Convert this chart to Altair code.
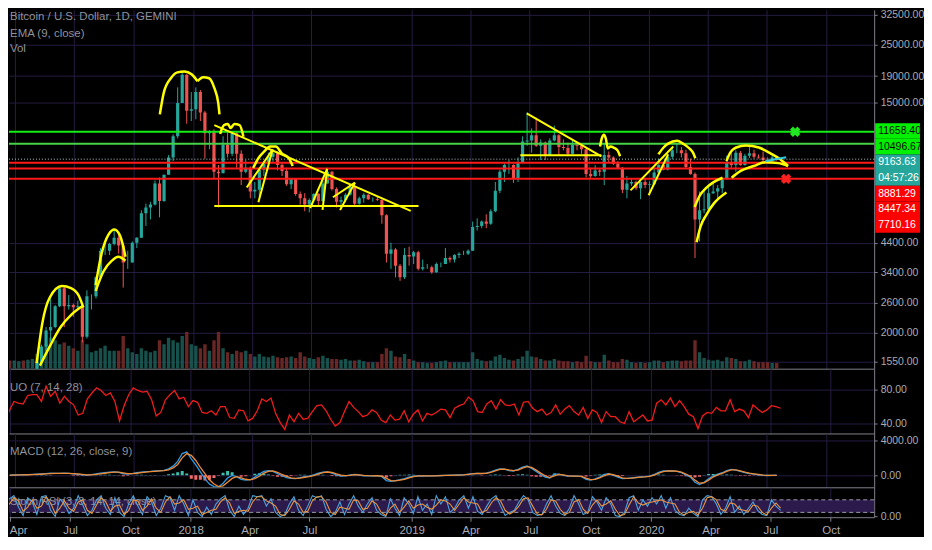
import altair as alt
import pandas as pd

# ---------------- layout / style ----------------
W = 868
H_PRICE, H_UO, H_MACD, H_STOCH = 360, 65, 54, 30
FONT = "Liberation Sans Narrow, Liberation Sans, Arial, sans-serif"
FONT_TXT = "Liberation Sans, Arial, sans-serif"
BG = "#000000"; GRID = "#251b40"; SEP = "#7e818a"; LBL = "#a8abb3"; LEG = "#8e929b"
UP = "#26a69a"; DOWN = "#ef5350"; VUP = "#1b5a54"; VDOWN = "#732a29"
YEL = "#ffff00"

# ---------------- weekly grid (GEMINI feed has a gap in Sep/Oct 2018) ----------------
week_a = pd.date_range("2017-03-20", "2018-09-17", freq="7D")
week_b = pd.date_range("2018-10-22", "2020-07-13", freq="7D")
weeks = list(week_a) + list(week_b)

# ---------------- price (weekly close / high / low) ----------------
first_open = 1020
close_2017 = [965, 1090, 1180, 1170, 1240, 1350, 1550, 1770, 2040, 2100, 2520, 2950, 2520, 2550, 2500, 2520,
              1930, 2750, 2750, 3250, 4100, 4100, 4350, 4600, 4300, 3700, 3700, 4400, 4600, 5700, 6000, 6150,
              7400, 6350, 8000, 9300, 11200, 15000, 19200, 14000, 14200]
high_2017 = [1120, 1100, 1200, 1210, 1250, 1350, 1600, 1800, 2100, 2750, 2550, 2980, 2980, 2780, 2580, 2650,
             2530, 2900, 2800, 3280, 4200, 4480, 4400, 4980, 4700, 4400, 4100, 4450, 4620, 5850, 6200, 6300,
             7600, 7800, 8000, 9500, 11400, 17200, 19800, 19300, 16500]
low_2017 = [890, 930, 1050, 1150, 1170, 1230, 1340, 1540, 1700, 1850, 2080, 2500, 2100, 2450, 2300, 2480,
            1840, 1900, 2450, 2700, 3200, 3950, 3950, 4300, 4000, 2970, 3500, 3700, 4200, 4600, 5100, 5400,
            6100, 5500, 6300, 8000, 9000, 11000, 15000, 12500, 12800]
close_2018 = [16500, 13800, 11500, 11700, 8200, 8100, 10400, 9600, 11500, 9600, 8200, 8500, 6900, 7000, 8350,
              8900, 9350, 9650, 8700, 8250, 7350, 7700, 6750, 6500, 6150, 6400, 6750, 6350, 7400, 8200, 7050,
              6300, 6400, 6700, 7200, 6200, 6500, 6700]
high_2018 = [17200, 16800, 14000, 11800, 11900, 8700, 11200, 11700, 11600, 11700, 9900, 9100, 8600, 7500, 8400,
             9000, 9700, 9950, 9800, 8850, 8500, 7750, 7750, 6900, 6800, 6500, 6800, 6800, 7600, 8500, 8250,
             7150, 6600, 6800, 7300, 7400, 6600, 6800]
low_2018 = [13000, 12800, 9200, 10000, 7700, 6000, 8100, 9300, 9400, 8500, 7300, 8100, 6500, 6500, 6600,
            7900, 8700, 8950, 8300, 7900, 7250, 7050, 6650, 6150, 5800, 5750, 6300, 6100, 6300, 7400, 6950,
            6000, 5900, 6300, 6650, 6100, 6150, 6250]
close_q4_2018 = [6450, 6450, 6400, 5600, 4000, 4150, 3600, 3250, 3950, 3900]
high_q4_2018 = [6750, 6550, 6600, 6450, 5650, 4400, 4200, 3650, 4200, 4250]
low_q4_2018 = [6400, 6300, 6350, 5200, 3700, 3500, 3250, 3150, 3200, 3600]
close_2019 = [4050, 3500, 3550, 3550, 3400, 3650, 3650, 3850, 3800, 3950, 4000, 4000, 4100, 5050, 5100, 5300,
              5200, 5800, 6950, 8200, 8700, 8700, 7700, 8900, 10700, 10800, 11300, 10300, 10600, 9500, 10800,
              11300, 10200, 10100, 9600, 10400, 10300, 10000, 8050, 7900, 8300, 8200, 9500, 9300, 8800, 8500,
              7000, 7400, 7500, 7100, 7500, 7300]
high_2019 = [4100, 4100, 3800, 3650, 3600, 3700, 3700, 4200, 3900, 3980, 4050, 4100, 4150, 5300, 5450, 5350,
             5650, 5900, 7500, 8350, 8800, 9100, 8750, 9300, 11200, 13800, 12000, 13200, 10900, 10700, 11000,
             12300, 11400, 10900, 10600, 10900, 10500, 10350, 10050, 8500, 8700, 8400, 10500, 9800, 9400, 9000,
             8550, 7900, 7700, 7600, 7550, 7700]
low_2019 = [3650, 3450, 3450, 3500, 3350, 3380, 3550, 3650, 3700, 3700, 3850, 3950, 3950, 4100, 4900, 5000,
            5000, 5150, 5750, 6800, 7500, 8050, 7450, 7500, 8850, 10300, 9700, 10200, 9100, 9100, 9400,
            10700, 9500, 9900, 9400, 9550, 9900, 9600, 7800, 7750, 7850, 7900, 7300, 8900, 8700, 8450,
            6800, 6500, 7250, 7000, 6450, 7100]
close_2020 = [7350, 8150, 8700, 8350, 9350, 9900, 9900, 9650, 8550, 8050, 5400, 5850, 5900, 6800, 6900, 7100,
              7700, 8900, 8700, 9700, 8700, 9450, 9650, 9350, 9300, 9100, 9050, 9300, 9163.63]
high_2020 = [7550, 8450, 9200, 8800, 9600, 10150, 10500, 10200, 9950, 9200, 8150, 6900, 6950, 7200, 7450, 7300,
             7750, 9450, 10000, 9900, 9850, 9600, 10400, 9950, 9550, 9800, 9300, 9450, 9350]
low_2020 = [6850, 7300, 8100, 8300, 8300, 9150, 9650, 9300, 8450, 8000, 3850, 4450, 5700, 5850, 6750, 6500,
            6800, 7650, 8500, 8200, 8650, 8650, 9250, 9200, 9200, 8900, 8950, 9000, 9050]

# ---------------- volume (relative, weekly) ----------------
vol_a = [10, 10, 9, 10, 11, 12, 18, 25, 30, 38, 35, 30, 32, 28, 25, 22, 35, 30, 20, 22, 25, 28, 22, 22, 22,
         40, 25, 20, 18, 25, 22, 20, 22, 35, 30, 38, 35, 32, 40, 45, 30, 28, 25, 30, 22, 35, 45, 25, 20, 18,
         22, 20, 22, 18, 15, 18, 15, 14, 16, 14, 13, 14, 15, 13, 20, 15, 13, 12, 14, 16, 13, 12, 12, 11, 12,
         10, 10, 11, 9]
vol_b = [8, 8, 8, 18, 25, 22, 15, 14, 18, 12, 10, 8, 8, 7, 7, 8, 9, 10, 8, 8, 8, 8, 8, 20, 12, 10, 9, 10, 15,
         17, 13, 11, 10, 12, 15, 22, 15, 14, 12, 10, 10, 12, 10, 9, 9, 8, 9, 8, 16, 9, 8, 8, 17, 10, 8, 8, 12,
         11, 8, 7, 8, 7, 8, 10, 10, 8, 9, 10, 10, 9, 10, 10, 35, 20, 13, 11, 10, 11, 9, 14, 13, 12, 9, 9, 11,
         9, 8, 8, 8, 7, 7]

# ---------------- indicators (weekly readings) ----------------
uo_a = [41, 55, 66, 64, 63, 73, 74, 74, 66, 84, 72, 78, 64, 72, 66, 62, 50, 52, 69, 76, 82, 79, 73, 76, 66, 43,
        61, 74, 82, 79, 77, 78, 68, 49, 53, 68, 74, 79, 69, 71, 60, 67, 65, 53, 52, 55, 50, 60, 60, 47, 46, 56,
        55, 43, 46, 55, 69, 66, 70, 52, 41, 33, 50, 42, 52, 45, 46, 54, 61, 62, 55, 45, 37, 41, 54, 66, 59, 54, 48]
uo_b = [50, 56, 53, 44, 41, 50, 44, 45, 55, 42, 51, 56, 43, 52, 50, 53, 57, 56, 47, 58, 61, 63, 71, 67, 54, 53,
        63, 67, 57, 68, 62, 61, 63, 50, 65, 66, 58, 54, 57, 50, 53, 62, 51, 57, 61, 54, 50, 59, 46, 56, 53, 41,
        54, 48, 48, 42, 40, 54, 42, 46, 50, 43, 44, 64, 68, 62, 70, 60, 67, 60, 51, 48, 34, 49, 53, 52, 59, 55,
        55, 68, 54, 57, 55, 47, 62, 57, 53, 56, 61, 60, 58]
macd_a = [20, 40, 60, 70, 80, 100, 130, 160, 200, 240, 230, 220, 240, 230, 160, 120, 60, 20, 80, 160, 250, 320,
          380, 400, 330, 180, 150, 200, 300, 380, 420, 450, 500, 520, 560, 750, 1050, 1600, 2500, 2700, 1900,
          1200, 400, -400, -1000, -1300, -1350, -900, -300, 0, -150, -450, -550, -500, -200, 150, 450, 550, 450,
          200, -50, -250, -350, -380, -250, -150, -100, 50, 250, 380, 400, 250, 50, -80, -50, 50, 100, 20, -50]
signal_a = [30, 35, 45, 55, 65, 80, 100, 125, 160, 200, 220, 220, 225, 230, 200, 160, 110, 60, 60, 100, 170, 240,
            310, 360, 360, 280, 200, 190, 240, 310, 370, 420, 460, 500, 530, 620, 850, 1250, 2000, 2500, 2300,
            1700, 900, 200, -500, -1000, -1300, -1200, -800, -350, -150, -300, -450, -520, -380, -100, 250, 450,
            500, 350, 100, -120, -280, -350, -320, -220, -140, -30, 150, 300, 380, 330, 160, 20, -40, 0, 70, 60, 0]
macd_b = [-60, -50, -40, -150, -600, -700, -600, -500, -380, -200, -80, -50, -80, -70, -60, -40, -20, 0, 10, 30,
          40, 50, 150, 200, 220, 200, 250, 400, 600, 750, 700, 550, 500, 700, 950, 1070, 800, 450, 100, -200,
          -300, 150, 150, 0, -100, -100, -80, -150, -450, -550, -400, -200, 100, 200, 0, -200, -380, -350, -300,
          -250, -190, -150, -80, 100, 350, 500, 520, 500, 450, 300, 50, -200, -800, -1050, -800, -400, -50, 150,
          300, 550, 680, 600, 450, 300, 200, 150, 60, 0, -20, 0, 10]
signal_b = [-40, -50, -45, -100, -350, -600, -640, -560, -450, -300, -150, -70, -70, -70, -65, -50, -30, -10, 5,
            20, 35, 45, 100, 170, 210, 210, 230, 330, 500, 680, 720, 620, 540, 600, 830, 1000, 900, 600, 250, -50,
            -250, -50, 100, 60, -50, -90, -90, -120, -330, -500, -460, -300, -50, 150, 80, -100, -300, -350, -320,
            -270, -210, -170, -110, 20, 250, 430, 500, 500, 470, 360, 150, -100, -550, -900, -850, -550, -200, 50,
            230, 450, 620, 620, 510, 360, 250, 180, 100, 30, 0, -5, 5]
stoch_k_a = [40, 85, 100, 45, 5, 90, 70, 10, 95, 100, 30, 0, 85, 60, 15, 40, 100, 55, 5, 30, 80, 100, 40, 10, 90,
             20, 0, 60, 100, 50, 10, 95, 70, 5, 40, 100, 90, 30, 100, 60, 5, 80, 20, 0, 45, 10, 60, 85, 100, 30, 0,
             50, 10, 40, 100, 95, 100, 50, 85, 20, 0, 10, 60, 95, 30, 5, 50, 100, 90, 100, 35, 0, 20, 70, 10, 60,
             100, 50, 20]
stoch_d_a = [45, 60, 90, 75, 25, 45, 80, 40, 50, 95, 65, 15, 40, 75, 40, 25, 70, 80, 30, 15, 55, 90, 70, 25, 50,
             55, 10, 30, 80, 75, 30, 50, 85, 40, 20, 70, 95, 60, 65, 80, 35, 40, 50, 10, 20, 30, 35, 70, 90, 65,
             15, 25, 30, 25, 70, 95, 95, 75, 65, 50, 10, 5, 35, 75, 60, 20, 25, 75, 95, 95, 70, 20, 10, 45, 40, 35,
             80, 75, 35]
stoch_k_b = [60, 90, 30, 10, 0, 85, 40, 5, 90, 60, 15, 95, 30, 60, 10, 100, 60, 95, 20, 40, 80, 100, 40, 95, 25,
             10, 50, 85, 100, 50, 5, 20, 30, 70, 100, 80, 20, 5, 10, 60, 100, 50, 15, 5, 40, 100, 60, 10, 20, 95,
             70, 30, 90, 60, 5, 0, 20, 90, 100, 30, 80, 50, 90, 60, 100, 40, 90, 30, 10, 5, 40, 15, 0, 80, 100, 95,
             60, 10, 40, 95, 20, 50, 10, 40, 70, 30, 10, 5, 80, 50, 30]
stoch_d_b = [40, 75, 60, 20, 5, 40, 60, 20, 45, 75, 40, 55, 60, 45, 35, 55, 80, 75, 60, 30, 60, 90, 70, 65, 60,
             20, 30, 65, 90, 75, 30, 12, 25, 50, 85, 90, 50, 12, 8, 35, 80, 75, 35, 10, 20, 70, 80, 35, 15, 55, 80,
             50, 60, 75, 35, 5, 10, 55, 95, 65, 55, 65, 70, 75, 80, 70, 65, 60, 20, 8, 20, 25, 8, 40, 90, 95, 80,
             35, 25, 65, 60, 35, 30, 25, 55, 50, 20, 8, 40, 65, 40]

# ---------------- horizontal levels & price labels ----------------
level_prices = [11658.40, 10496.67, 8881.29, 8447.34, 7710.16]
level_colors = ["#14ee14", "#46d246", "#ff1a1a", "#ff1a1a", "#ff1a1a"]
box_labels = ["11658.40", "10496.67", "9163.63", "04:57:26", "8881.29", "8447.34", "7710.16"]
box_bg = ["#00f000", "#00f000", "#26a69a", "#26a69a", "#ff0000", "#ff0000", "#ff0000"]
box_fg = ["#0a0a0a", "#0a0a0a", "#ffffff", "#ffffff", "#ffffff", "#ffffff", "#ffffff"]

# ---------------- hand-drawn annotations (date, price) ----------------
curves = {
    "c1o": [("2017-05-04", 1531), ("2017-05-13", 2193), ("2017-05-24", 2716), ("2017-06-12", 3010),
            ("2017-06-26", 2958), ("2017-07-08", 2763), ("2017-07-15", 2494)],
    "c1i": [("2017-05-09", 1497), ("2017-05-24", 1770), ("2017-06-10", 2101), ("2017-06-27", 2348),
            ("2017-07-15", 2537)],
    "c2o": [("2017-08-03", 3035), ("2017-08-12", 3993), ("2017-08-23", 4738), ("2017-09-01", 4946),
            ("2017-09-10", 4657), ("2017-09-18", 3892)],
    "c2i": [("2017-08-03", 2884), ("2017-08-15", 3421), ("2017-08-28", 3760), ("2017-09-07", 3892),
            ("2017-09-18", 3760)],
    "c3a": [("2017-11-10", 13578), ("2017-11-16", 16393), ("2017-11-27", 18638), ("2017-12-07", 19619),
            ("2017-12-18", 19789), ("2017-12-29", 19286), ("2018-01-07", 18164)],
    "c3b": [("2018-01-07", 18164), ("2018-01-16", 18800), ("2018-01-25", 18638), ("2018-02-02", 17110),
            ("2018-02-08", 15049), ("2018-02-10", 13578)],
    "c4": [("2018-02-11", 11443), ("2018-02-17", 12359), ("2018-02-23", 12462), ("2018-02-27", 12042),
           ("2018-03-05", 12462), ("2018-03-13", 12359), ("2018-03-19", 11150)],
    "c5": [("2018-04-03", 8483), ("2018-04-11", 9239), ("2018-04-20", 9808), ("2018-04-29", 10237),
           ("2018-05-08", 10237), ("2018-05-17", 9642), ("2018-05-28", 9239), ("2018-06-03", 8627)],
    "c6": [("2019-10-18", 10237), ("2019-10-21", 11055), ("2019-10-24", 11344), ("2019-10-27", 10962),
           ("2019-10-30", 10062), ("2019-11-03", 10237), ("2019-11-08", 10148), ("2019-11-14", 9892),
           ("2019-11-18", 9397)],
    "c7": [("2020-01-16", 9559), ("2020-01-24", 10148), ("2020-01-31", 10503), ("2020-02-14", 10778),
           ("2020-02-23", 10503), ("2020-03-04", 10062), ("2020-03-10", 9642), ("2020-03-13", 9237)],
    "c8o": [("2020-03-12", 6022), ("2020-03-20", 6674), ("2020-03-29", 7086), ("2020-04-09", 7457),
            ("2020-04-24", 7785)],
    "c8i": [("2020-03-15", 4424), ("2020-03-21", 5073), ("2020-03-30", 5625), ("2020-04-11", 6231),
            ("2020-04-30", 6844)],
    "c9o": [("2020-04-30", 9003), ("2020-05-06", 9725), ("2020-05-15", 10148), ("2020-05-30", 10325),
            ("2020-06-19", 10148), ("2020-07-07", 9642), ("2020-07-22", 9158), ("2020-08-03", 8627)],
    "c9i": [("2020-05-08", 7785), ("2020-05-22", 8265), ("2020-06-11", 8627), ("2020-06-29", 8926),
            ("2020-07-19", 8850), ("2020-08-03", 8627)],
}
segments = {
    "s1": [("2018-02-02", 12359), ("2018-12-30", 5820)],
    "s2": [("2018-02-02", 6072), ("2019-01-11", 6072)],
    "s3": [("2018-03-24", 7145), ("2018-05-03", 9977)],
    "s4": [("2018-04-11", 6284), ("2018-05-03", 9977)],
    "s5": [("2018-06-30", 5970), ("2018-07-26", 8408)],
    "s6": [("2018-07-19", 5869), ("2018-07-26", 8408)],
    "s7": [("2018-08-04", 6558), ("2018-09-07", 7457)],
    "s8": [("2018-08-15", 5869), ("2018-09-07", 7457)],
    "s9": [("2019-06-27", 13694), ("2019-10-20", 9397)],
    "s10": [("2019-06-17", 9478), ("2019-10-20", 9478)],
    "s11": [("2019-12-04", 6966), ("2020-02-08", 10237)],
    "s12": [("2020-01-01", 6674), ("2020-01-31", 9559)],
}
cyan_segment = [("2020-06-29", 9003), ("2020-07-31", 9318)]
cross_dates = ["2020-08-14", "2020-07-31"]
cross_prices = [11658.40, 7710.16]
cross_colors = ["#22e622", "#ff2020"]

# ---------------- bar-time axis (days on the chart; the feed skips Sep 22 - Oct 20, 2018) ----------------
T0, G0, G1 = (pd.Timestamp(s) for s in ["2017-03-24", "2018-09-22", "2018-10-20"])
GAP = (G1 - G0) / pd.Timedelta(days=1)
PX_PER_DAY = 885 / 1345          # horizontal density of the reference chart


def bar_time(ts):
    ts = pd.Timestamp(ts)
    d = (ts - T0) / pd.Timedelta(days=1)
    if ts >= G1:
        return d - GAP
    if ts > G0:
        return (G0 - T0) / pd.Timedelta(days=1)
    return d


X_START = 6.0
X_END = X_START + W / PX_PER_DAY
tick_dates = ["2017-04-01", "2017-07-01", "2017-10-01", "2018-01-01", "2018-04-01", "2018-07-01",
              "2019-01-01", "2019-04-01", "2019-07-01", "2019-10-01", "2020-01-01", "2020-04-01",
              "2020-07-01", "2020-10-01"]
tick_text = ["Apr", "Jul", "Oct", "2018", "Apr", "Jul", "2019", "Apr", "Jul", "Oct", "2020", "Apr", "Jul", "Oct"]
tick_vals = [int(round(bar_time(s))) for s in tick_dates]

# ---------------- frames ----------------
close = close_2017 + close_2018 + close_q4_2018 + close_2019 + close_2020
high = high_2017 + high_2018 + high_q4_2018 + high_2019 + high_2020
low = low_2017 + low_2018 + low_q4_2018 + low_2019 + low_2020
opens = [first_open] + close[:-1]

df = pd.DataFrame({
    "open": opens, "high": high, "low": low, "close": close,
    "vol": vol_a + vol_b, "uo": uo_a + uo_b,
    "macd": macd_a + macd_b, "signal": signal_a + signal_b,
    "k": stoch_k_a + stoch_k_b, "d": stoch_d_a + stoch_d_b,
})
df["t"] = [bar_time(w + pd.Timedelta(hours=84)) for w in weeks]


def to_frame(groups):
    rows = []
    for gid, pts in groups.items():
        for i, (d, p) in enumerate(pts):
            rows.append({"id": gid, "t": bar_time(d), "price": p, "i": i})
    return pd.DataFrame(rows)


curve_df = to_frame(curves)
seg_df = to_frame(segments)
cyan_df = to_frame({"cy": cyan_segment})
cross_df = pd.DataFrame({"t": [bar_time(d) for d in cross_dates], "price": cross_prices, "color": cross_colors})
level_df = pd.DataFrame({"price": level_prices, "color": level_colors})
last_df = pd.DataFrame({"price": [close[-1]]})
box_df = pd.DataFrame({"label": box_labels, "bg": box_bg, "fg": box_fg, "slot": list(range(len(box_labels)))})
band_df = pd.DataFrame({"lo": [20], "hi": [80]})
dash_df = pd.DataFrame({"v": [20, 80]})

# ---------------- scales & axes ----------------
xs = alt.Scale(domain=[X_START, X_END], nice=False, zero=False)
label_expr = "[" + ",".join("'%s'" % s for s in tick_text) + "][indexof([" + \
    ",".join(str(v) for v in tick_vals) + "], datum.value)]"

ax_hidden = alt.Axis(values=tick_vals, labels=False, ticks=False, domain=True, domainColor=SEP,
                     grid=True, gridColor=GRID, title=None)
ax_bottom = alt.Axis(values=tick_vals, labelExpr=label_expr, ticks=True, tickSize=4, tickColor=SEP,
                     domain=True, domainColor=SEP, grid=True, gridColor=GRID, labelColor=LBL,
                     labelFont=FONT, labelFontSize=11.5, labelPadding=3, title=None,
                     labelFlush=10, labelFlushOffset=1)


def yaxis(values, grid=True):
    return alt.Axis(orient="right", values=values, format=".2f", grid=grid, gridColor=GRID,
                    domainColor=SEP, tickColor=SEP, tickSize=3, labelColor=LBL, labelFont=FONT,
                    labelFontSize=10.5, labelPadding=3, labelOverlap=False, title=None)


ys = alt.Scale(type="log", domain=[1458, 33950], nice=False)
price_axis = yaxis([1550, 2000, 2600, 3400, 4400, 15000, 19000, 25000, 32500])
up_test = "datum.close >= datum.open"


def X(axis):
    return alt.X("t:Q", scale=xs, axis=axis)


def PY(field):
    return alt.Y(field, scale=ys, axis=price_axis)


def label(text, y, size=11.5):
    return alt.Chart(pd.DataFrame({"t": [text]})).mark_text(
        align="left", baseline="middle", font=FONT_TXT, fontSize=size, color=LEG
    ).encode(x=alt.value(1), y=alt.value(y), text="t:N")


# ---------------- price panel ----------------
vol = alt.Chart(df).mark_bar(size=3.4, clip=True, opacity=0.9).encode(
    x=X(ax_hidden),
    y=alt.Y("vol:Q", scale=alt.Scale(domain=[0, 440]), axis=None),
    color=alt.condition(up_test, alt.value(VUP), alt.value(VDOWN)),
)
wick = alt.Chart(df).mark_rule(strokeWidth=1, clip=True).encode(
    x=X(ax_hidden), y=PY("low:Q"), y2="high:Q",
    color=alt.condition(up_test, alt.value(UP), alt.value(DOWN)),
)
body = alt.Chart(df).mark_bar(size=3.2, clip=True).encode(
    x=X(ax_hidden), y=PY("open:Q"), y2="close:Q",
    color=alt.condition(up_test, alt.value(UP), alt.value(DOWN)),
)
levels = alt.Chart(level_df).mark_rule(strokeWidth=2).encode(
    y=PY("price:Q"), color=alt.Color("color:N", scale=None))
last_line = alt.Chart(last_df).mark_rule(strokeWidth=1, strokeDash=[1, 2], color="#b5c7c7").encode(
    y=PY("price:Q"))
curve_lines = alt.Chart(curve_df).mark_line(interpolate="monotone", color=YEL, strokeWidth=2.5,
                                            clip=True).encode(
    x=X(ax_hidden), y=PY("price:Q"), detail="id:N", order="i:Q")
seg_lines = alt.Chart(seg_df).mark_line(color=YEL, strokeWidth=2, clip=True).encode(
    x=X(ax_hidden), y=PY("price:Q"), detail="id:N", order="i:Q")
cyan_line = alt.Chart(cyan_df).mark_line(color="#33c8e0", strokeWidth=2, clip=True).encode(
    x=X(ax_hidden), y=PY("price:Q"), order="i:Q")
crosses = alt.Chart(cross_df).mark_point(shape="cross", angle=45, filled=True, size=110, opacity=1,
                                         clip=True).encode(
    x=X(ax_hidden), y=PY("price:Q"), color=alt.Color("color:N", scale=None))

price_group = alt.layer(wick, body, levels, last_line, curve_lines, seg_lines, cyan_line, crosses)

# label slots stacked below the first level label (15.7 px each)
slot_scale = alt.Scale(domain=[-121.5 / 15.7, (H_PRICE - 121.5) / 15.7], reverse=True, nice=False, zero=False)
box_base = alt.Chart(box_df).transform_calculate(top="datum.slot - 0.5", bot="datum.slot + 0.5")
box_rect = box_base.mark_rect().encode(
    x=alt.value(W + 1), x2=alt.value(W + 46),
    y=alt.Y("top:Q", scale=slot_scale, axis=None), y2="bot:Q",
    color=alt.Color("bg:N", scale=None))
box_text = box_base.mark_text(align="left", baseline="middle", font=FONT, fontSize=10.5).encode(
    x=alt.value(W + 4), y=alt.Y("slot:Q", scale=slot_scale, axis=None),
    text="label:N", color=alt.Color("fg:N", scale=None))
boxes = alt.layer(box_rect, box_text)

price_panel = alt.layer(
    vol, price_group, boxes,
    label("Bitcoin / U.S. Dollar, 1D, GEMINI", 7.5), label("EMA (9, close)", 24), label("Vol", 39),
).resolve_scale(y="independent").properties(width=W, height=H_PRICE)

# ---------------- UO panel ----------------
uo_line = alt.Chart(df).mark_line(color="#f01c1c", strokeWidth=1.3, clip=True).encode(
    x=X(ax_hidden),
    y=alt.Y("uo:Q", scale=alt.Scale(domain=[28.2, 104.7], nice=False, zero=False), axis=yaxis([40, 80])))
uo_panel = alt.layer(uo_line, label("UO (7, 14, 28)", 19)).properties(width=W, height=H_UO)

# ---------------- MACD panel ----------------
ms = alt.Scale(domain=[-1371, 4800], nice=False, zero=False)
macd_axis = yaxis([0, 4000])
macd_base = alt.Chart(df).transform_calculate(hist="datum.macd - datum.signal", zero="0")
hist = macd_base.mark_bar(size=3, clip=True).encode(
    x=X(ax_hidden), y=alt.Y("hist:Q", scale=ms, axis=macd_axis), y2="zero:Q",
    color=alt.condition("datum.hist >= 0", alt.value("#3fbfae"), alt.value("#f26b6b")))
sig_line = alt.Chart(df).mark_line(color="#ef8a35", strokeWidth=1.3, clip=True).encode(
    x=X(ax_hidden), y=alt.Y("signal:Q", scale=ms, axis=macd_axis))
macd_line = alt.Chart(df).mark_line(color="#2f9be8", strokeWidth=1.3, clip=True).encode(
    x=X(ax_hidden), y=alt.Y("macd:Q", scale=ms, axis=macd_axis))
macd_panel = alt.layer(hist, macd_line, sig_line, label("MACD (12, 26, close, 9)", 19)).properties(
    width=W, height=H_MACD)

# ---------------- Stoch RSI panel ----------------
ss = alt.Scale(domain=[-3, 140], nice=False, zero=False)
stoch_axis = yaxis([0], grid=False)
band = alt.Chart(band_df).mark_rect(color="#2c1a4d").encode(
    y=alt.Y("lo:Q", scale=ss, axis=stoch_axis), y2="hi:Q")
dashes = alt.Chart(dash_df).mark_rule(color="#9a9aa6", strokeDash=[4, 3], strokeWidth=1).encode(
    y=alt.Y("v:Q", scale=ss, axis=stoch_axis))
k_line = alt.Chart(df).mark_line(color="#4aa3df", strokeWidth=1.1, clip=True).encode(
    x=X(ax_bottom), y=alt.Y("k:Q", scale=ss, axis=stoch_axis))
d_line = alt.Chart(df).mark_line(color="#e9953e", strokeWidth=1.1, clip=True).encode(
    x=X(ax_bottom), y=alt.Y("d:Q", scale=ss, axis=stoch_axis))
stoch_panel = alt.layer(band, dashes, label("Stoch RSI (3, 3, 14, 14, close)", 15, 11), k_line, d_line
                        ).properties(width=W, height=H_STOCH)

chart = alt.vconcat(price_panel, uo_panel, macd_panel, stoch_panel, spacing=0).resolve_scale(
    x="independent", y="independent"
).properties(padding={"left": 0, "top": 0, "right": 0, "bottom": 0}).configure(
    background=BG
).configure_view(strokeWidth=0)

chart.save("out.html", embed_options={"renderer": "svg", "actions": False})
